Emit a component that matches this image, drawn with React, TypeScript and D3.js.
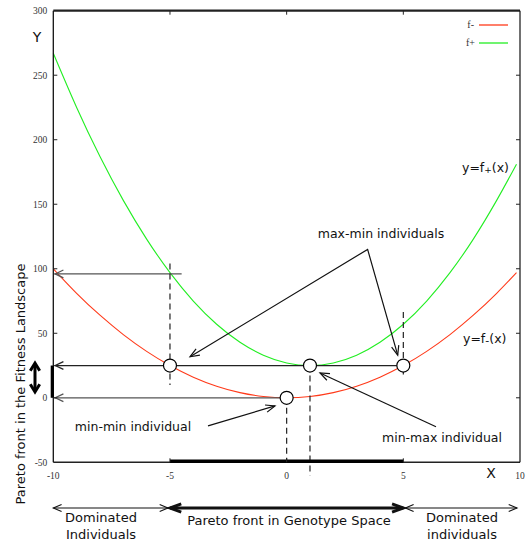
import React from "react";
import * as d3 from "d3";

const xTicks = [-10, -5, 0, 5, 10];
const yTicks = [-50, 0, 50, 100, 150, 200, 250, 300];
const topTicks = [-5, 0, 5];
const curveX = [-10, -9, -8, -7, -6, -5, -4, -3, -2, -1, 0, 1, 2, 3, 4, 5, 6, 7, 8, 9, 9.85];
const fMinus = [100, 81, 64, 49, 36, 25, 16, 9, 4, 1, 0, 1, 4, 9, 16, 25, 36, 49, 64, 81, 97];
const fPlus = [267, 225, 187, 153, 123, 97, 75, 57, 43, 33, 27, 25, 27, 33, 43, 57, 75, 97, 123, 153, 181];
const keyX = [-5, 1, 5, 0];
const keyY = [25, 25, 25, 0];
const guideY = [96, 25, 0];
const guideEndX = [-4.5, 5, 0];
const dashX = [-5, 5, 0, 1];
const dashTop = [104, 66.5, 0, 25];
const dashBottom = [10, 18, -50, -60.5];

const W = 528;
const H = 543;
const x = d3.scaleLinear().domain([-10, 10]).range([53.3, 520]);
const y = d3.scaleLinear().domain([-50, 300]).range([462.3, 10.7]);

const RED = "#ff3a1a";
const GREEN = "#22ee22";
const SANS = "'DejaVu Sans', Verdana, sans-serif";
const SERIF = "'Liberation Serif', 'Times New Roman', serif";

function chevron(tx: number, ty: number, fx: number, fy: number, len = 9, spread = 0.45) {
  const a = Math.atan2(fy - ty, fx - tx);
  const p1 = [tx + len * Math.cos(a + spread), ty + len * Math.sin(a + spread)];
  const p2 = [tx + len * Math.cos(a - spread), ty + len * Math.sin(a - spread)];
  return `M${p1[0]},${p1[1]}L${tx},${ty}L${p2[0]},${p2[1]}`;
}

export default function App() {
  const pts = (vals: number[]) => curveX.map((cx, i) => [cx, vals[i]] as [number, number]);
  const line = d3
    .line<[number, number]>()
    .x((d) => x(d[0]))
    .y((d) => y(d[1]))
    .curve(d3.curveNatural);

  // annotation anchor points in data coordinates
  const mmApex: [number, number] = [3.47, 115];
  const mmTipL: [number, number] = [-4.14, 31.8];
  const mmTipR: [number, number] = [4.76, 33.1];
  const mxStart: [number, number] = [6.4, -22.4];
  const mxTip: [number, number] = [1.43, 19.2];
  const mnStart: [number, number] = [-3.37, -21.8];
  const mnTip: [number, number] = [-0.5, -6.3];

  const P = (p: [number, number]) => [x(p[0]), y(p[1])];

  const arrowY = 508;

  return (
    <svg width={W} height={H} style={{ position: "absolute", left: 0, top: 0, background: "#fff" }}>
      {/* curves */}
      <path d={line(pts(fMinus)) || ""} fill="none" stroke={RED} strokeWidth={1.1} />
      <path d={line(pts(fPlus)) || ""} fill="none" stroke={GREEN} strokeWidth={1.1} />

      {/* guide horizontal lines with left arrowheads */}
      {guideY.map((gv, i) => (
        <g key={"g" + i} stroke={i === 1 ? "#222" : "#555"} strokeWidth={1.3} fill="none">
          <line x1={x(-10) + 1} x2={x(guideEndX[i])} y1={y(gv)} y2={y(gv)} />
          <path d={chevron(x(-10) + 2, y(gv), x(-10) + 20, y(gv), 9, 0.45)} />
        </g>
      ))}

      {/* dashed verticals */}
      {dashX.map((dx, i) => (
        <line
          key={"d" + i}
          x1={x(dx)}
          x2={x(dx)}
          y1={y(dashTop[i])}
          y2={y(dashBottom[i])}
          stroke="#222"
          strokeWidth={1.2}
          strokeDasharray="6,4"
        />
      ))}

      {/* frame */}
      <line x1={x(-10)} x2={x(10)} y1={y(300)} y2={y(300)} stroke="#222" strokeWidth={2.2} />
      <line x1={x(-10)} x2={x(10)} y1={y(-50)} y2={y(-50)} stroke="#222" strokeWidth={1.6} />
      <line x1={x(-10)} x2={x(-10)} y1={y(300)} y2={y(-50)} stroke="#111" strokeWidth={1.3} />
      <line x1={x(10)} x2={x(10)} y1={y(300)} y2={y(-50)} stroke="#111" strokeWidth={1.2} />

      {/* thick pareto bars on axes */}
      <line x1={x(-5)} x2={x(5)} y1={y(-50) - 1} y2={y(-50) - 1} stroke="#000" strokeWidth={3.5} />
      <line x1={x(-10) - 1} x2={x(-10) - 1} y1={y(25)} y2={y(0)} stroke="#000" strokeWidth={3.2} />

      {/* ticks */}
      {yTicks.map((t) => (
        <g key={"yt" + t}>
          {t > -50 && t < 300 && (
            <>
              <line x1={x(-10)} x2={x(-10) + 4} y1={y(t)} y2={y(t)} stroke="#222" strokeWidth={1} />
              <line x1={x(10)} x2={x(10) - 4} y1={y(t)} y2={y(t)} stroke="#222" strokeWidth={1} />
            </>
          )}
          <text
            x={x(-10) - 6}
            y={y(t) + 3.5}
            textAnchor="end"
            fontFamily={SERIF}
            fontSize={9.5}
            fill="#333"
          >
            {t}
          </text>
        </g>
      ))}
      {topTicks.map((t) => (
        <g key={"tt" + t}>
          <line x1={x(t)} x2={x(t)} y1={y(300)} y2={y(300) + 4} stroke="#222" strokeWidth={1} />
          <line x1={x(t)} x2={x(t)} y1={y(-50)} y2={y(-50) - 4} stroke="#222" strokeWidth={1} />
        </g>
      ))}
      {xTicks.map((t) => (
        <text
          key={"xt" + t}
          x={x(t)}
          y={479}
          textAnchor="middle"
          fontFamily={SERIF}
          fontSize={9.5}
          fill="#333"
        >
          {t}
        </text>
      ))}

      {/* key points */}
      {keyX.map((kx, i) => (
        <circle key={"c" + i} cx={x(kx)} cy={y(keyY[i])} r={6.5} fill="#fff" stroke="#000" strokeWidth={1.2} />
      ))}

      {/* annotations */}
      <g stroke="#111" strokeWidth={1.2} fill="none">
        <polyline points={[P(mmTipL), P(mmApex), P(mmTipR)].map((p) => p.join(",")).join(" ")} />
        <path d={chevron(P(mmTipL)[0], P(mmTipL)[1], P(mmApex)[0], P(mmApex)[1], 10, 0.38)} />
        <path d={chevron(P(mmTipR)[0], P(mmTipR)[1], P(mmApex)[0], P(mmApex)[1], 10, 0.38)} />
        <line x1={P(mxStart)[0]} y1={P(mxStart)[1]} x2={P(mxTip)[0]} y2={P(mxTip)[1]} />
        <path d={chevron(P(mxTip)[0], P(mxTip)[1], P(mxStart)[0], P(mxStart)[1], 10, 0.38)} />
        <line x1={P(mnStart)[0]} y1={P(mnStart)[1]} x2={P(mnTip)[0]} y2={P(mnTip)[1]} />
        <path d={chevron(P(mnTip)[0], P(mnTip)[1], P(mnStart)[0], P(mnStart)[1], 10, 0.38)} />
      </g>

      <g fontFamily={SANS} fontSize={12.5} fill="#111">
        <text x={381} y={238} textAnchor="middle">max-min individuals</text>
        <text x={442} y={442} textAnchor="middle">min-max individual</text>
        <text x={133} y={431} textAnchor="middle">min-min individual</text>
        <text x={462} y={172}>
          y=f<tspan fontSize={9} dy={1}>+</tspan>
          <tspan dy={-1}>(x)</tspan>
        </text>
        <text x={463} y={343}>
          y=f<tspan fontSize={11} dy={1}>-</tspan>
          <tspan dy={-1}>(x)</tspan>
        </text>
      </g>

      {/* axis letters */}
      <text x={37} y={42} textAnchor="middle" fontFamily={SANS} fontSize={14} fill="#111">Y</text>
      <text x={491} y={478} textAnchor="middle" fontFamily={SANS} fontSize={14} fill="#111">X</text>

      {/* y title */}
      <text
        transform={`translate(25,384) rotate(-90)`}
        textAnchor="middle"
        fontFamily={SANS}
        fontSize={13}
        fill="#111"
      >
        Pareto front in the Fitness Landscape
      </text>

      {/* bold double arrow on left */}
      <g stroke="#000" strokeWidth={3} fill="none">
        <line x1={35} x2={35} y1={364} y2={391} />
        <path d={chevron(35, 363, 35, 380, 9, 0.55)} />
        <path d={chevron(35, 392, 35, 370, 9, 0.55)} />
      </g>

      {/* legend */}
      <g fontFamily={SERIF} fontSize={10} fill="#333">
        <text x={474} y={28} textAnchor="end">f-</text>
        <line x1={479} x2={508} y1={25} y2={25} stroke={RED} strokeWidth={1.3} />
        <text x={475} y={46} textAnchor="end">f+</text>
        <line x1={479} x2={508} y1={43} y2={43} stroke={GREEN} strokeWidth={1.3} />
      </g>

      {/* bottom arrows */}
      <g stroke="#111" fill="none">
        <g strokeWidth={1.1}>
          <line x1={x(-10)} x2={x(-5) - 2} y1={arrowY} y2={arrowY} />
          <path d={chevron(x(-10), arrowY, x(-5), arrowY, 9, 0.4)} />
          <path d={chevron(x(-5) - 2, arrowY, x(-10), arrowY, 9, 0.4)} />
          <line x1={x(5) + 2} x2={x(10) - 3} y1={arrowY} y2={arrowY} />
          <path d={chevron(x(5) + 2, arrowY, x(10), arrowY, 9, 0.4)} />
          <path d={chevron(x(10) - 3, arrowY, x(5), arrowY, 9, 0.4)} />
        </g>
        <g strokeWidth={3}>
          <line x1={x(-5)} x2={x(5)} y1={arrowY} y2={arrowY} />
          <path d={chevron(x(-5), arrowY, x(5), arrowY, 12, 0.35)} />
          <path d={chevron(x(5), arrowY, x(-5), arrowY, 12, 0.35)} />
        </g>
      </g>

      <g fontFamily={SANS} fontSize={13} fill="#111" textAnchor="middle">
        <text x={101} y={522}>Dominated</text>
        <text x={101} y={539}>Individuals</text>
        <text x={289} y={525}>Pareto front in Genotype Space</text>
        <text x={462} y={522}>Dominated</text>
        <text x={462} y={539}>individuals</text>
      </g>
    </svg>
  );
}
